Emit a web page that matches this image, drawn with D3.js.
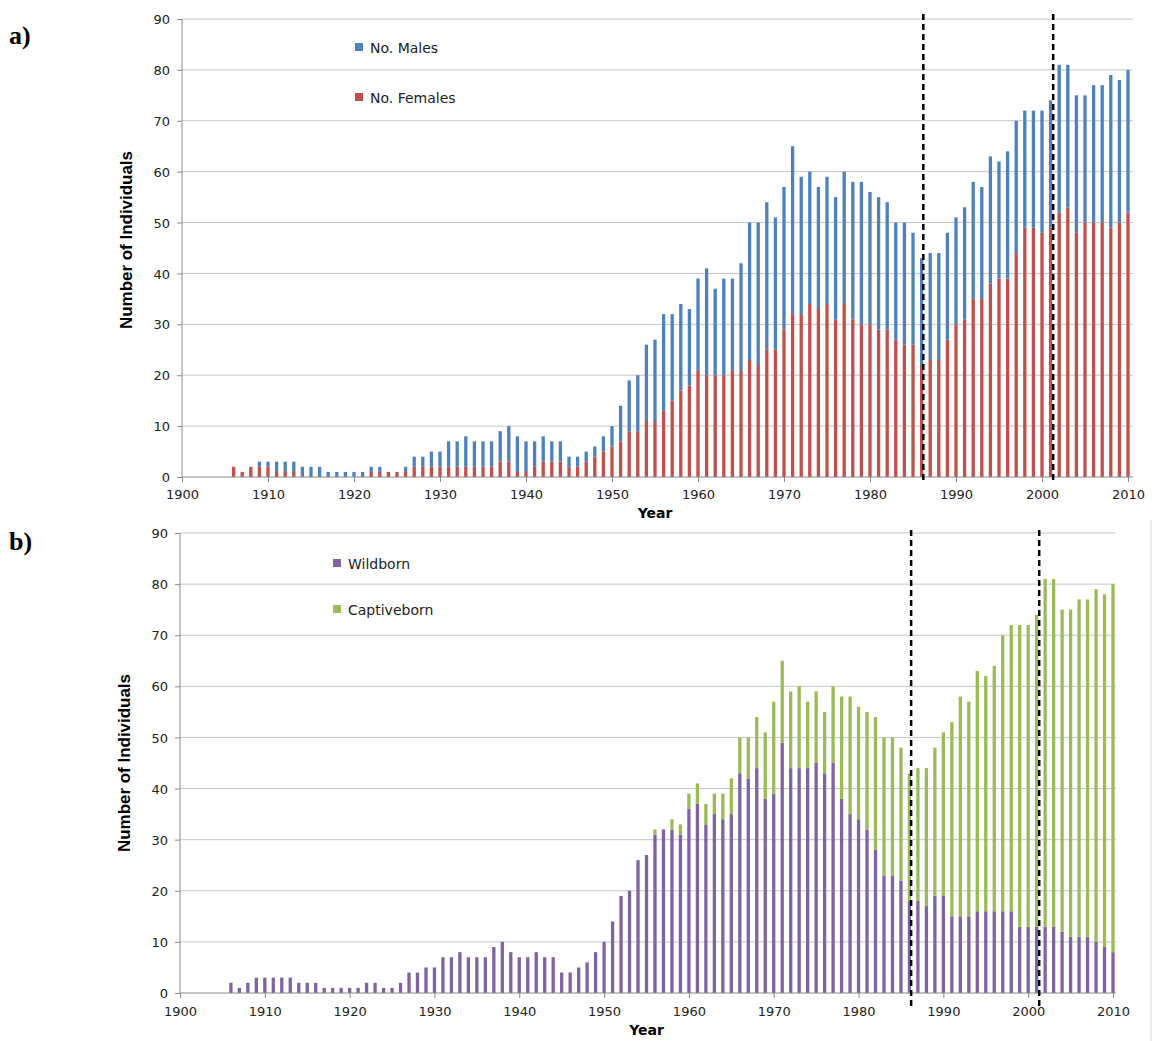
<!DOCTYPE html>
<html>
<head>
<meta charset="UTF-8">
<title>Number of Individuals</title>
<style>
body { margin: 0; background: #fff; }
.grid line { stroke: #c6c6c6; stroke-width: 1; }
.axis path, .axis line { stroke: #8a8a8a; }
.tick-label { font-family: "DejaVu Sans", sans-serif; font-size: 13px; fill: #222; }
.legend text { font-family: "DejaVu Sans", sans-serif; font-size: 14px; fill: #222; }
.ytitle { font-family: "Liberation Sans Narrow", "Liberation Sans", sans-serif; font-weight: bold; font-size: 16px; }
.xtitle { font-family: "DejaVu Sans", sans-serif; font-weight: bold; font-size: 14px; }
.plabel { font-family: "Liberation Serif", serif; font-weight: bold; font-size: 26px; }
.vline { stroke: #000; stroke-width: 2.5; stroke-dasharray: 6,4; }
</style>
</head>
<body>
<svg id="chart"></svg>
<script src="https://d3js.org/d3.v7.min.js"></script>
<script>

var W = 1169, H = 1041;

// years shown as bars
var years = d3.range(1906, 2011);
var yTicks = [0, 10, 20, 30, 40, 50, 60, 70, 80, 90];
var xTicks = [1900, 1910, 1920, 1930, 1940, 1950, 1960, 1970, 1980, 1990, 2000, 2010];
var markYears = [1986.2, 2001.3];

// panel a
var females = [2,1,2,2,2,1,1,1,0,0,0,0,0,0,0,0,1,1,1,1,
  1,2,2,2,2,2,2,2,2,2,2,3,3,1,1,2,3,3,3,2,
  2,3,4,5,6,7,9,9,11,11,13,15,17,18,21,20,20,20,21,21,
  23,22,25,25,29,32,32,34,33,34,31,34,31,30,30,29,29,27,26,26,
  22,23,23,27,30,31,35,35,38,39,39,44,49,49,48,49,52,53,48,50,
  50,50,49,50,52];
var males = [0,0,0,1,1,2,2,2,2,2,2,1,1,1,1,1,1,1,0,0,
  1,2,2,3,3,5,5,6,5,5,5,6,7,7,6,5,5,4,4,2,
  2,2,2,3,4,7,10,11,15,16,19,17,17,15,18,21,17,19,18,21,
  27,28,29,26,28,33,27,26,24,25,24,26,27,28,26,26,25,23,24,22,
  21,21,21,21,21,22,23,22,25,23,25,26,23,23,24,25,29,28,27,25,
  27,27,30,28,28];

// panel b
var wildborn = [2,1,2,3,3,3,3,3,2,2,2,1,1,1,1,1,2,2,1,1,
  2,4,4,5,5,7,7,8,7,7,7,9,10,8,7,7,8,7,7,4,
  4,5,6,8,10,14,19,20,26,27,31,32,32,31,36,37,33,35,34,35,
  43,42,44,38,39,49,44,44,44,45,43,45,38,35,34,32,28,23,23,22,
  18,18,17,19,19,15,15,15,16,16,16,16,16,13,13,13,13,13,12,11,
  11,11,10,9,8];
var captiveborn = [0,0,0,0,0,0,0,0,0,0,0,0,0,0,0,0,0,0,0,0,
  0,0,0,0,0,0,0,0,0,0,0,0,0,0,0,0,0,0,0,0,
  0,0,0,0,0,0,0,0,0,0,1,0,2,2,3,4,4,4,5,7,
  7,8,10,13,18,16,15,16,13,14,12,15,20,23,22,23,26,27,27,26,
  25,26,27,29,32,38,43,42,47,46,48,54,56,59,59,61,68,68,63,64,
  66,66,69,69,72];

var svg = d3.select('#chart').attr('width', W).attr('height', H)
  .style('display', 'block');

svg.append('rect').attr('width', W).attr('height', H).attr('fill', '#fff');

// light frame on the right of panel b
svg.append('line')
  .attr('x1', 1151).attr('x2', 1151).attr('y1', 520).attr('y2', H)
  .attr('stroke', '#d9d9d9');

function drawPanel(p) {
  var g = svg.append('g').attr('transform', 'translate(' + p.left + ',' + p.top + ')');

  var x = d3.scaleLinear().domain([1900, 2010]).range([0, p.width]);
  var y = d3.scaleLinear().domain([0, 90]).range([p.height, 0]);

  // gridlines
  g.append('g').attr('class', 'grid')
    .selectAll('line')
    .data(yTicks.filter(function (d) { return d > 0; }))
    .enter().append('line')
    .attr('x1', 0).attr('x2', p.gridWidth)
    .attr('y1', function (d) { return y(d); })
    .attr('y2', function (d) { return y(d); });

  // stacked bars
  var rows = years.map(function (yr, i) {
    var r = { year: yr };
    p.series.forEach(function (s) { r[s.key] = s.values[i]; });
    return r;
  });
  var stack = d3.stack().keys(p.series.map(function (s) { return s.key; }));
  var layers = stack(rows);
  var bw = 3.3;

  g.selectAll('g.layer')
    .data(layers)
    .enter().append('g')
    .attr('class', 'layer')
    .attr('fill', function (d, i) { return p.series[i].color; })
    .selectAll('rect')
    .data(function (d) { return d.filter(function (v) { return v[1] > v[0]; }); })
    .enter().append('rect')
    .attr('x', function (d) { return x(d.data.year) - bw / 2; })
    .attr('width', bw)
    .attr('y', function (d) { return y(d[1]); })
    .attr('height', function (d) { return y(d[0]) - y(d[1]); });

  // y axis
  var yAxis = d3.axisLeft(y).tickValues(yTicks).tickSize(5).tickFormat(d3.format('d'));
  var ya = g.append('g').attr('class', 'axis').call(yAxis);
  ya.select('.domain').attr('d', 'M0,' + y(90) + 'V' + y(0));
  ya.selectAll('text').attr('class', 'tick-label').attr('x', -12).attr('dy', '0.35em');

  // x axis
  var xAxis = d3.axisBottom(x).tickValues(xTicks).tickSize(5).tickFormat(d3.format('d'));
  var xa = g.append('g').attr('class', 'axis')
    .attr('transform', 'translate(0,' + p.height + ')').call(xAxis);
  xa.select('.domain').attr('d', 'M0,0H' + p.gridWidth);
  xa.selectAll('text').attr('class', 'tick-label').attr('y', p.xLabelDy);

  // dashed markers
  g.selectAll('line.vline')
    .data(markYears)
    .enter().append('line')
    .attr('class', 'vline')
    .attr('x1', function (d) { return x(d); })
    .attr('x2', function (d) { return x(d); })
    .attr('y1', p.vTop).attr('y2', p.vBottom);

  // titles
  g.append('text').attr('class', 'ytitle')
    .attr('transform', 'translate(' + p.yTitleX + ',' + p.yTitleY + ') rotate(-90)')
    .attr('text-anchor', 'middle')
    .attr('textLength', 178).attr('lengthAdjust', 'spacingAndGlyphs')
    .text('Number of Individuals');

  g.append('text').attr('class', 'xtitle')
    .attr('x', x(p.xTitleYear)).attr('y', p.height + p.xTitleDy)
    .attr('text-anchor', 'middle')
    .text('Year');

  // legend
  var lg = g.append('g').attr('class', 'legend');
  p.legend.forEach(function (l, i) {
    var s = p.series[l];
    var ly = p.legendY[i];
    lg.append('rect').attr('x', p.legendX).attr('y', ly - 5)
      .attr('width', 8).attr('height', 8).attr('fill', s.color);
    lg.append('text').attr('x', p.legendX + 15).attr('y', ly).attr('dy', '0.35em')
      .text(s.name);
  });

  // panel label
  svg.append('text').attr('class', 'plabel')
    .attr('x', 9).attr('y', p.labelY).text(p.label);
}

drawPanel({
  left: 182, top: 19, width: 946, gridWidth: 951, height: 458,
  label: 'a)', labelY: 44,
  series: [
    { key: 'f', name: 'No. Females', color: '#C0504D', values: females },
    { key: 'm', name: 'No. Males', color: '#4F81BD', values: males }
  ],
  legend: [1, 0], legendX: 173,
  legendY: [29, 79],
  vTop: -5, vBottom: 464,
  yTitleX: -50, yTitleY: 221,
  xTitleYear: 1955, xTitleDy: 41, xLabelDy: 13
});

drawPanel({
  left: 180, top: 533, width: 933, gridWidth: 936, height: 460,
  label: 'b)', labelY: 550,
  series: [
    { key: 'w', name: 'Wildborn', color: '#8064A2', values: wildborn },
    { key: 'c', name: 'Captiveborn', color: '#9BBB59', values: captiveborn }
  ],
  legend: [0, 1], legendX: 153,
  legendY: [31, 77],
  vTop: -3, vBottom: 477,
  yTitleX: -50, yTitleY: 230,
  xTitleYear: 1955, xTitleDy: 42, xLabelDy: 14
});

</script>
</body>
</html>
